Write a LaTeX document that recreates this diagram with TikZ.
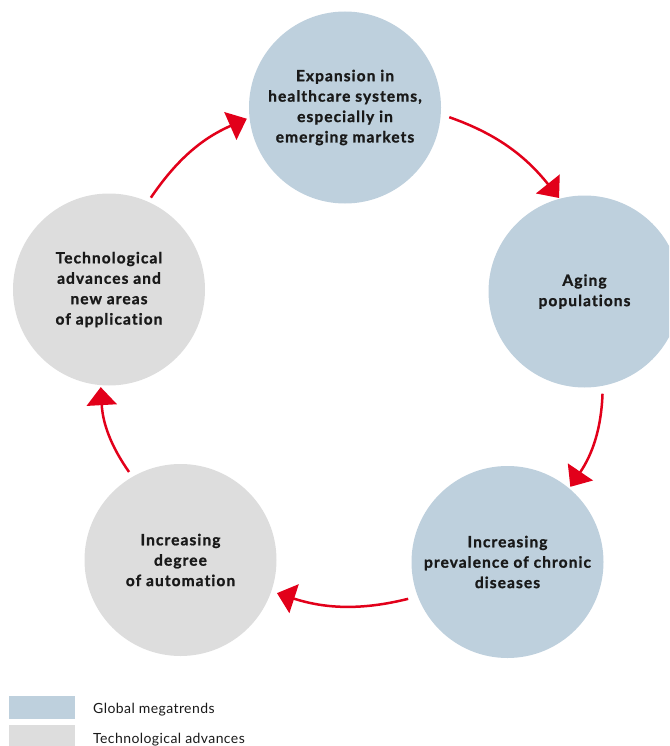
\documentclass[tikz,border=0pt]{standalone}
\usepackage{fontspec}
\setmainfont{Lato}
\newfontfamily\bubblefont{Lato}[LetterSpace=7, FakeBold=1.2, Ligatures=NoCommon]
\newfontfamily\legendfont{Lato}[LetterSpace=3, Ligatures=NoCommon]
\usetikzlibrary{arrows.meta}
\definecolor{megablue}{RGB}{190,208,221}
\definecolor{techgray}{RGB}{221,221,221}
\definecolor{arrred}{RGB}{226,0,26}
\begin{document}
\begin{tikzpicture}[x=1pt,y=-1pt,
  bubble/.style={circle, minimum size=192pt, inner sep=0pt, outer sep=0pt, align=center,
     font=\bubblefont\bfseries\fontsize{15.5}{20.4}\selectfont, text=black!90},
  mega/.style={bubble, fill=megablue},
  tech/.style={bubble, fill=techgray},
  arr/.style={draw=arrred, line width=2.5pt, -{Triangle[length=18pt,width=30pt]}},
  legbox/.style={minimum width=66pt, minimum height=23pt, inner sep=0pt, outer sep=0pt},
  legtext/.style={anchor=base west, inner sep=0pt, font=\legendfont\fontsize{14}{16}\selectfont, text=black!90}]
\clip (0,0) rectangle (669,746);
\useasboundingbox (0,0) rectangle (669,746);

\node[mega] (top) at (345,107.5) {Expansion in\\healthcare systems,\\especially in\\emerging markets};
\node[mega] (right) at (584.5,291.5) {Aging\\populations};
\node[mega] (br) at (507.5,562) {Increasing\\prevalence of chronic\\diseases};
\node[tech] (bl) at (180.5,560) {Increasing\\degree\\of automation};
\node[tech] (left) at (109,289.5) {Technological\\advances and\\new areas\\of application};

\draw[arr, shorten <=9pt, shorten >=1pt] (top.-4) to[bend left=16] (right.105);
\draw[arr, shorten <=8pt, shorten >=2pt] (right.-79) to[bend left=16] (br.50);
\draw[arr, shorten <=10pt, shorten >=6pt] (br.201) to[bend left=16] (bl.-19);
\draw[arr, shorten <=6pt, shorten >=2pt] (bl.120) to[bend left=16] (left.-95);
\draw[arr, shorten <=5pt, shorten >=3pt] (left.66) to[bend left=16] (top.186);

\node[legbox, fill=megablue] (lb1) at (42,707.5) {};
\node[legbox, fill=techgray, minimum height=21pt] (lb2) at (42,735.5) {};
\node[legtext] (lt1) at (93,713) {Global megatrends};
\node[legtext] (lt2) at (93,743) {Technological advances};
\end{tikzpicture}
\end{document}
